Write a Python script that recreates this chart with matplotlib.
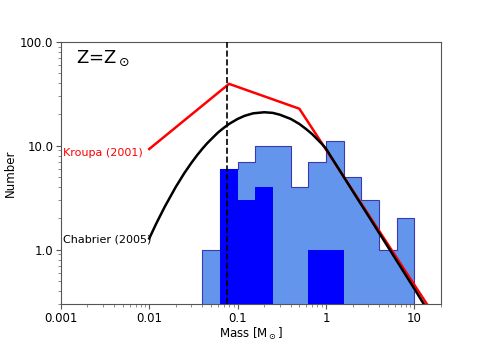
import matplotlib
matplotlib.use('Agg')
import matplotlib.pyplot as plt
from matplotlib.ticker import FixedLocator, FixedFormatter
import numpy as np

# histogram bins (mass edges) and counts
bin_edges = [0.04, 0.063, 0.1, 0.158, 0.251, 0.398, 0.631, 1.0, 1.585, 2.512, 3.981, 6.31, 10.0]
all_counts = [1, 6, 7, 10, 10, 4, 7, 11, 5, 3, 1, 2]
sub_counts = [0, 6, 3, 4, 0, 0, 1, 1, 0, 0, 0, 0]

# Kroupa (2001) broken power law
kroupa_m = [0.01, 0.08, 0.5, 15.0]
kroupa_n = [9.3, 39.4, 22.7, 0.27]

# Chabrier (2005) curve
chab_m = [0.01, 0.012, 0.015, 0.02, 0.025, 0.03, 0.035, 0.04, 0.045, 0.05, 0.06,
          0.07, 0.08, 0.1, 0.12, 0.15, 0.2, 0.25, 0.3, 0.4, 0.5, 0.6, 0.7,
          0.8, 0.9, 1.0, 1.5, 2.0, 3.0, 5.0, 7.0, 10.0, 15.0]
chab_n = [1.28, 1.78, 2.59, 4.02, 5.46, 6.84, 8.15, 9.37, 10.5, 11.5, 13.4,
          14.9, 16.2, 18.1, 19.4, 20.5, 21.0, 20.7, 19.9, 18.1, 16.2, 14.4, 12.9,
          11.5, 10.4, 9.37, 5.42, 3.67, 2.13, 1.07, 0.68, 0.42, 0.24]

m_limit = 0.075

fig = plt.figure(figsize=(4.91, 3.43), dpi=100)
ax = fig.add_axes([0.124, 0.114, 0.774, 0.764])

ax.stairs(all_counts, bin_edges, fill=True, baseline=1e-3, color='cornflowerblue', zorder=1)
ax.stairs(all_counts, bin_edges, fill=False, baseline=1e-3, color='#3a3ab0', lw=0.8, zorder=2)
edges = np.array(bin_edges)
sub = np.array(sub_counts, dtype=float)
keep = sub > 0
ax.bar(edges[:-1][keep], sub[keep], width=(edges[1:] - edges[:-1])[keep], align='edge',
       bottom=1e-3, color='blue', lw=0, zorder=3)

ax.plot(kroupa_m, kroupa_n, color='red', lw=1.8, zorder=4)
ax.plot(chab_m, chab_n, color='black', lw=1.8, zorder=4)
ax.axvline(m_limit, color='black', ls='--', lw=1.2, zorder=5)

ax.set_xscale('log')
ax.set_yscale('log')
ax.set_xlim(0.001, 20)
ax.set_ylim(0.3, 100)

ax.xaxis.set_major_locator(FixedLocator([0.001, 0.01, 0.1, 1, 10]))
ax.xaxis.set_major_formatter(FixedFormatter(['0.001', '0.01', '0.1', '1', '10']))
ax.yaxis.set_major_locator(FixedLocator([1, 10, 100]))
ax.yaxis.set_major_formatter(FixedFormatter(['1.0', '10.0', '100.0']))
ax.tick_params(which='major', labelsize=8.5, length=3.5, pad=2, color='#555555')
ax.tick_params(which='minor', length=2, color='#777777')
for s in ax.spines.values():
    s.set_color('#555555')

ax.set_xlabel(r'Mass [M$_\odot$]', fontsize=8.5, labelpad=1)
ax.set_ylabel('Number', fontsize=8.5)
ax.yaxis.set_label_coords(-0.115, 0.5)

ax.text(0.00105, 8.6, 'Kroupa (2001)', color='red', fontsize=8, ha='left', va='center')
ax.text(0.00105, 1.25, 'Chabrier (2005)', color='black', fontsize=8, ha='left', va='center')
ax.text(0.04, 0.975, r'Z=Z$_\odot$', transform=ax.transAxes, fontsize=13, ha='left', va='top')

fig.savefig('out.png', dpi=100)
